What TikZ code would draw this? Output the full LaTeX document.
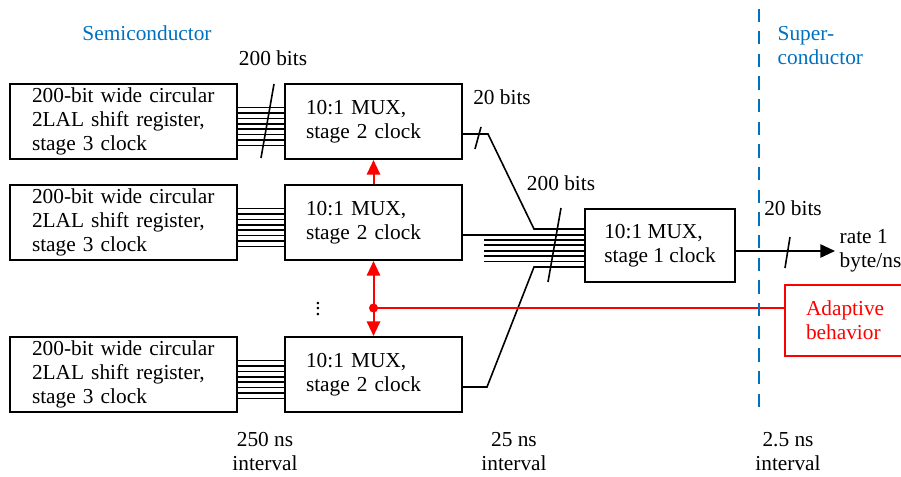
\documentclass[tikz,border=0pt]{standalone}
\usepackage{fontspec}
\setmainfont{Liberation Serif}
\usetikzlibrary{positioning,arrows.meta}
\definecolor{semiblue}{RGB}{0,112,192}

\begin{document}
\begin{tikzpicture}[x=0.75pt,y=-0.75pt,>={Triangle[length=11pt,width=10pt]},
        every node/.style={font=\fontsize{16}{18}\selectfont},
        shiftreg/.style={draw,line width=1.5pt,minimum height=56.25pt,text width=137.25pt,inner xsep=16.5pt,inner ysep=1pt,align=left},
        muxbox/.style={draw,line width=1.5pt,minimum height=56.25pt,text width=101.25pt,inner xsep=15.75pt,inner ysep=1pt,align=left},
        mainmux/.style={draw,line width=1.5pt,minimum width=112.5pt,minimum height=54.75pt,inner ysep=1pt,align=left},
        wire/.style={line width=1.2pt},
        ctrl/.style={red,line width=1.5pt},
        node distance=18pt]
        \useasboundingbox (0,0) rectangle (901,476);
        \node[shiftreg] (reg1) at (123.5,121.5) {200-bit wide circular\\2LAL shift register,\\stage 3 clock};
        \node[shiftreg,below=of reg1] (reg2) {200-bit wide circular\\2LAL shift register,\\stage 3 clock};
        \node[shiftreg,below=56.25pt of reg2] (reg3) {200-bit wide circular\\2LAL shift register,\\stage 3 clock};
        \node[muxbox,right=34.5pt of reg1] (muxa) {10:1 MUX,\\stage 2 clock};
        \node[muxbox,right=34.5pt of reg2] (muxb) {10:1 MUX,\\stage 2 clock};
        \node[muxbox,right=34.5pt of reg3] (muxc) {10:1 MUX,\\stage 2 clock};
        \node[mainmux] (mux1) at (660,245.5) {10:1 MUX,\\stage 1 clock};
        \node[draw=red,text=red,line width=1.5pt,minimum height=53.25pt,text width=101.25pt,inner xsep=15.75pt,align=left,anchor=west] (adaptive) at (784,320.5) {Adaptive\\behavior};
        \node[anchor=west,align=left] (rate) at (835,251) {rate 1\\byte/ns};
        % 200-bit buses into the stage 2 muxes
        \foreach \r/\m in {reg1/muxa,reg2/muxb,reg3/muxc}
            \foreach \k in {0,...,7}
                \draw[wire] ([yshift={10.5pt-\k*4.07pt}]\r.east) -- ([yshift={10.5pt-\k*4.07pt}]\m.west);
        % 20-bit outputs merging into the stage 1 mux
        \draw[wire] ([yshift=-9.375pt]muxa.east) -- ++(25,0) -- ([xshift=-37.5pt,yshift=12.375pt]mux1.west) -- ([yshift=12.375pt]mux1.west);
        \coordinate (outb) at ([yshift=-9.375pt]muxb.east);
        \draw[wire] (outb) -- (outb -| mux1.west);
        \foreach \k in {2,...,6}
            \draw[wire] ([xshift=-75pt,yshift={12.375pt-\k*4.07pt}]mux1.west) -- ([yshift={12.375pt-\k*4.07pt}]mux1.west);
        \draw[wire] ([yshift=-9.375pt]muxc.east) -- ++(24,0) -- ([xshift=-37.5pt,yshift=-16.125pt]mux1.west) -- ([yshift=-16.125pt]mux1.west);
        \coordinate (outa) at ([yshift=-4.125pt]mux1.east);
        \draw[wire,->] (outa) -- (rate.west);
        % bus slashes and widths
        \draw[wire] (261,158) -- (274,84);
        \draw[wire] (475,149) -- (481,127);
        \draw[wire] (548,282) -- (561,208);
        \draw[wire] (785,268) -- (790,237);
        \node (bitsa) at (273,58) {200 bits};
        \node (bitsb) at (502,97) {20 bits};
        \node (bitsc) at (561,183) {200 bits};
        \node (bitsd) at (793,208) {20 bits};
        \node (dots) at (318,305) {$\vdots$};
        % adaptive control
        \coordinate (lvl) at (0,308);
        \coordinate (tap) at (muxb.south |- lvl);
        \draw[ctrl,->] (muxb) -- (muxa);
        \draw[ctrl,->] (tap) -- (muxb.south);
        \draw[ctrl,->] (tap) -- (muxc.north);
        \draw[ctrl] (tap) -- (tap -| adaptive.west);
        \fill[red] (tap) circle (3.4pt);
        % domains
        \draw[semiblue,line width=1.5pt,dash pattern=on 10pt off 7pt] (759,407) -- (759,9);
        \node[text=semiblue] (semi) at (147,33) {Semiconductor};
        \node[text=semiblue,anchor=west,align=left] (super) at (773,46) {Super-\\conductor};
        \node[align=center] (tslow) at (265,452) {250 ns\\interval};
        \node[align=center] (tmid) at (514,452) {25 ns\\interval};
        \node[align=center] (tfast) at (788,452) {2.5 ns\\interval};
\end{tikzpicture}
\end{document}
